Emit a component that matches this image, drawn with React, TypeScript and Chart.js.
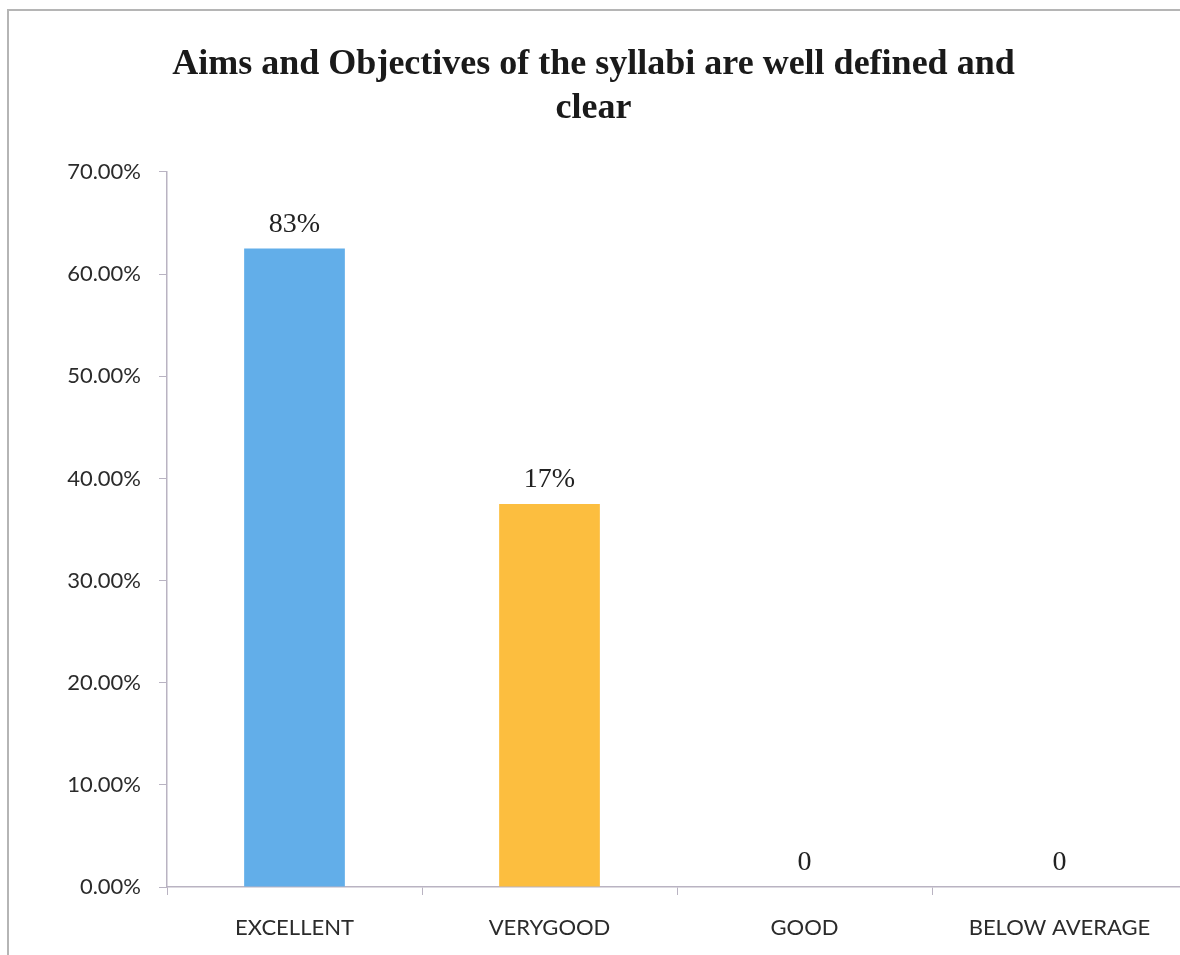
import React, { useEffect, useRef } from "react";
import { Chart, registerables } from "chart.js";

Chart.register(...registerables);

const categories = ["EXCELLENT", "VERYGOOD", "GOOD", "BELOW AVERAGE"];
const values = [62.5, 37.5, 0, 0];
const valueLabels = ["83%", "17%", "0", "0"];
const barColors = ["#62AEE9", "#FCBE3F", "#62AEE9", "#FCBE3F"];
const titleLines = ["Aims and Objectives of the syllabi are well defined and", "clear"];
const yMax = 70;
const yStep = 10;

const AXIS = "#b9b3c2";
const TEXT = "#2b2b2b";

const valueLabelPlugin = {
  id: "valueLabels",
  afterDatasetsDraw(chart: any) {
    const ctx = chart.ctx;
    const meta = chart.getDatasetMeta(0);
    ctx.save();
    ctx.font = "28px 'Liberation Serif', 'Times New Roman', serif";
    ctx.fillStyle = "#222222";
    ctx.textAlign = "center";
    ctx.textBaseline = "alphabetic";
    meta.data.forEach((bar: any, i: number) => {
      ctx.fillText(valueLabels[i], bar.x, bar.y - 17);
    });
    ctx.restore();
  },
};

export default function App() {
  const ref = useRef<HTMLCanvasElement | null>(null);

  useEffect(() => {
    document.documentElement.style.overflow = "hidden";
    document.body.style.overflow = "hidden";
    const canvas = ref.current;
    if (!canvas) return;
    const chart = new Chart(canvas, {
      type: "bar",
      data: {
        labels: categories,
        datasets: [
          {
            data: values,
            backgroundColor: barColors,
            borderWidth: 0,
            barPercentage: 0.395,
            categoryPercentage: 1,
          },
        ],
      },
      plugins: [valueLabelPlugin],
      options: {
        animation: false,
        responsive: false,
        maintainAspectRatio: false,
        layout: { padding: { left: 0, right: 8, top: 0, bottom: 0 } },
        plugins: {
          legend: { display: false },
          tooltip: { enabled: false },
          title: {
            display: true,
            text: titleLines,
            color: "#1a1a1a",
            font: { family: "'Liberation Serif', 'Times New Roman', serif", size: 36, weight: "bold", lineHeight: 1.222 },
            padding: { top: 43, bottom: 41 },
          },
        },
        scales: {
          x: {
            grid: { display: true, drawOnChartArea: false, drawTicks: true, tickLength: 8, color: AXIS, offset: true },
            border: { display: true, color: AXIS, width: 1.5 },
            ticks: {
              color: TEXT,
              padding: 20,
              font: { family: "Lato, 'Open Sans', sans-serif", size: 22 },
              maxRotation: 0,
              autoSkip: false,
            },
            afterFit(scale: any) {
              scale.height = 68;
            },
          },
          y: {
            min: 0,
            max: yMax,
            grid: { display: true, drawOnChartArea: false, drawTicks: true, tickLength: 8, color: AXIS },
            border: { display: true, color: AXIS, width: 1.5 },
            ticks: {
              stepSize: yStep,
              color: TEXT,
              padding: 18,
              font: { family: "Lato, 'Open Sans', sans-serif", size: 22 },
              callback: (v: any) => Number(v).toFixed(2) + "%",
            },
            afterFit(scale: any) {
              scale.width = 167;
            },
          },
        },
      },
    });
    return () => chart.destroy();
  }, []);

  return (
    <div style={{ position: "absolute", left: 0, top: 0, width: 1195, height: 955, background: "#ffffff", overflow: "hidden" }}>
      <div
        style={{
          position: "absolute",
          left: 7,
          top: 9,
          width: 1200,
          height: 1000,
          borderTop: "2px solid #b5b5b5",
          borderLeft: "2px solid #b5b5b5",
          boxSizing: "border-box",
        }}
      />
      <canvas ref={ref} width={1195} height={955} style={{ position: "absolute", left: 0, top: 0, width: 1195, height: 955 }} />
    </div>
  );
}
